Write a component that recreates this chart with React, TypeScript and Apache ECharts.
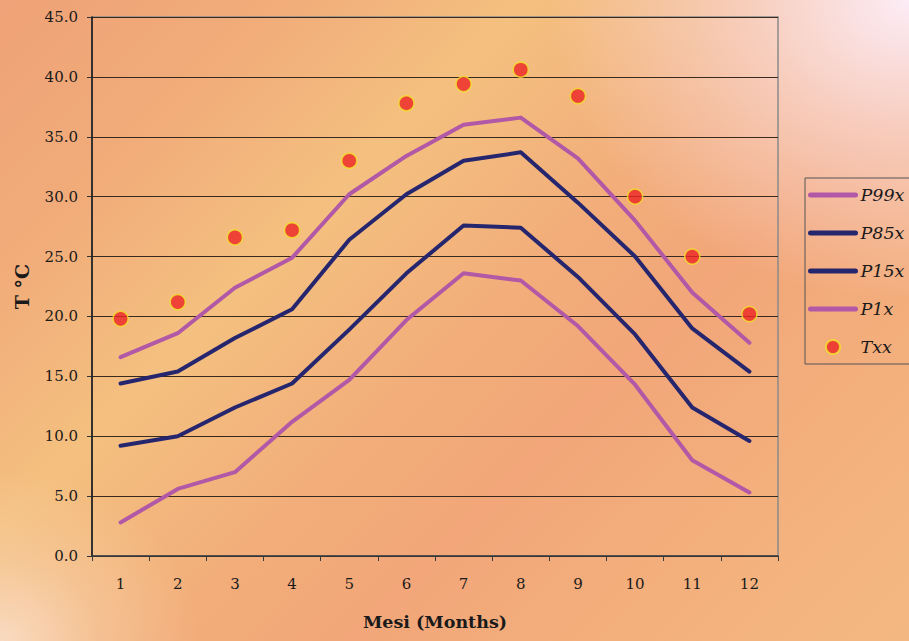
import React, { useEffect, useRef } from "react";
import * as echarts from "echarts";

const months = ["1", "2", "3", "4", "5", "6", "7", "8", "9", "10", "11", "12"];
const p99x = [16.6, 18.6, 22.4, 24.9, 30.2, 33.4, 36.0, 36.6, 33.2, 28.0, 22.0, 17.8];
const p85x = [14.4, 15.4, 18.2, 20.6, 26.4, 30.2, 33.0, 33.7, 29.5, 25.0, 19.0, 15.4];
const p15x = [9.2, 10.0, 12.4, 14.4, 18.9, 23.6, 27.6, 27.4, 23.3, 18.5, 12.4, 9.6];
const p1x = [2.8, 5.6, 7.0, 11.2, 14.7, 19.7, 23.6, 23.0, 19.2, 14.3, 8.0, 5.3];
const txx = [19.8, 21.2, 26.6, 27.2, 33.0, 37.8, 39.4, 40.6, 38.4, 30.0, 25.0, 20.2];

const PURPLE = "#b158a6";
const NAVY = "#26266e";
const FONT = "DejaVu Serif";

export default function App() {
  const ref = useRef<HTMLDivElement>(null);
  useEffect(() => {
    if (!ref.current) return;
    const chart = echarts.init(ref.current, null, { renderer: "svg" });
    const lineSeries = (name: string, data: number[], color: string) => ({
      name,
      type: "line",
      data,
      symbol: "none",
      lineStyle: { color, width: 4, cap: "round", join: "round" },
      itemStyle: { color },
      z: 3,
    });
    const lineLegend = (name: string) => ({
      name,
      itemStyle: { opacity: 0 },
      lineStyle: { width: 5, cap: "round" },
    });
    chart.setOption({
      animation: false,
      backgroundColor: "transparent",
      grid: {
        left: 92,
        right: 131,
        top: 17,
        bottom: 85,
        show: true,
        borderColor: "#8a8a8a",
        borderWidth: 1.5,
        backgroundColor: "transparent",
      },
      legend: {
        orient: "vertical",
        left: 805,
        top: 178,
        padding: [8, 6, 8, 3],
        itemWidth: 45,
        itemHeight: 14,
        itemGap: 20,
        borderColor: "#555",
        borderWidth: 1,
        textStyle: {
          fontFamily: FONT,
          fontStyle: "italic",
          fontSize: 17.5,
          lineHeight: 17.5,
          color: "#1a1a1a",
        },
        data: [lineLegend("P99x"), lineLegend("P85x"), lineLegend("P15x"), lineLegend("P1x"), { name: "Txx" }],
      },
      xAxis: {
        type: "category",
        data: months,
        boundaryGap: true,
        name: "Mesi (Months)",
        nameLocation: "middle",
        nameGap: 57,
        nameTextStyle: { fontFamily: FONT, fontWeight: "bold", fontSize: 17.5, color: "#1a1a1a" },
        axisLine: { lineStyle: { color: "#3a3a3a", width: 1.5 } },
        axisTick: { show: true, length: 5, inside: false, lineStyle: { color: "#3a3a3a" } },
        axisLabel: { fontFamily: FONT, fontSize: 15, color: "#1a1a1a", margin: 20 },
        splitLine: { show: false },
      },
      yAxis: {
        type: "value",
        min: 0,
        max: 45,
        interval: 5,
        name: "T °C",
        nameLocation: "middle",
        nameRotate: 90,
        nameGap: 61,
        nameTextStyle: { fontFamily: FONT, fontWeight: "bold", fontSize: 19, color: "#1a1a1a" },
        axisLine: { show: true, lineStyle: { color: "#111", width: 1.5 } },
        axisTick: { show: true, length: 5, lineStyle: { color: "#333" } },
        axisLabel: {
          fontFamily: FONT,
          fontSize: 15,
          color: "#1a1a1a",
          margin: 14,
          formatter: (v: number) => v.toFixed(1),
        },
        splitLine: { show: true, lineStyle: { color: "#3a2a1e", width: 1 } },
      },
      series: [
        lineSeries("P99x", p99x, PURPLE),
        lineSeries("P85x", p85x, NAVY),
        lineSeries("P15x", p15x, NAVY),
        lineSeries("P1x", p1x, PURPLE),
        {
          name: "Txx",
          type: "scatter",
          data: txx,
          symbol: "circle",
          symbolSize: 15,
          itemStyle: { color: "#ec2424", borderColor: "#f2e22a", borderWidth: 1.5 },
          z: 4,
        },
      ],
    });
    return () => chart.dispose();
  }, []);

  const bg = [
    "radial-gradient(ellipse 360px 300px at 100% 0%, rgba(252,236,246,1) 0%, rgba(250,222,222,0.65) 45%, rgba(246,200,160,0) 100%)",
    "radial-gradient(ellipse 200px 170px at 0% 100%, rgba(250,222,200,0.9) 0%, rgba(248,214,180,0.4) 50%, rgba(246,200,160,0) 100%)",
    "linear-gradient(135deg, #efa277 0%, #f1ac7a 18%, #f4c07f 34%, #f2ad7a 52%, #f2a679 64%, #f3b07d 82%, #f4b882 100%)",
  ].join(", ");

  return (
    <div
      style={{
        position: "fixed",
        left: 0,
        top: 0,
        width: 909,
        height: 641,
        background: bg,
      }}
    >
      <div ref={ref} style={{ width: 909, height: 641 }} />
    </div>
  );
}
